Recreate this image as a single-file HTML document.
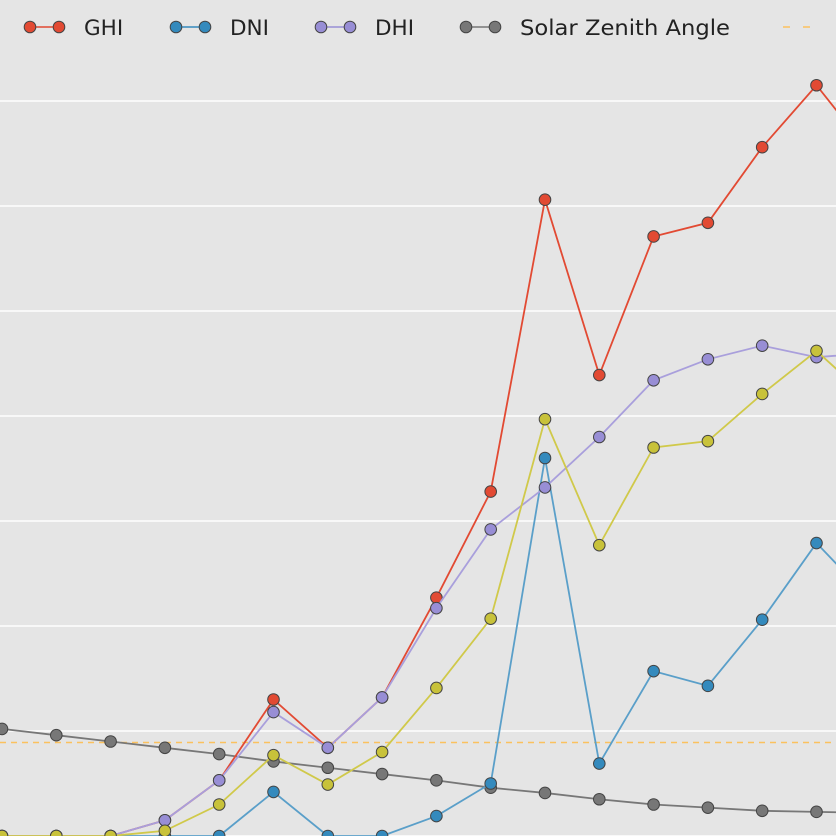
<!DOCTYPE html>
<html><head><meta charset="utf-8"><style>
body{margin:0;background:#e5e5e5;}
svg{display:block;font-family:"DejaVu Sans","Liberation Sans",sans-serif;}
</style></head><body>
<svg id="chart" width="836" height="836" viewBox="0 0 836 836">
<rect width="836" height="836" fill="#e5e5e5"/>
<g id="grid"></g>
<g id="series"></g>
<g id="legend"></g>
</svg>
<script>
const categories=[0,1,2,3,4,5,6,7,8,9,10,11,12,13,14,15,16];
const ghi=[0,0,0,15,53,130,84,132,227,328,606,439,571,584,656,715,650];
const dni=[0,0,0,0,0,42,0,0,19,50,360,69,157,143,206,279,225];
const dhi=[0,0,0,15,53,118,84,132,217,292,332,380,434,454,467,456,460];
const yellow=[0,0,0,5,30,77,49,80,141,207,397,277,370,376,421,462,415];
const zenith=[102,96,90,84,78,71,65,59,53,46,41,35,30,27,24,23,22];
const threshold=89;
const gridTicks=[0,100,200,300,400,500,600,700];
const NS='http://www.w3.org/2000/svg';
const xs=i=>2+i*54.3;
const ys=v=>836-v*1.05;
function mk(t,a,p){const e=document.createElementNS(NS,t);for(const k in a)e.setAttribute(k,a[k]);p.appendChild(e);return e;}
const grid=document.getElementById('grid');
gridTicks.forEach(v=>{const l=mk('line',{x1:0,x2:836,y1:ys(v),y2:ys(v),stroke:'#fff','stroke-width':1.6},grid);

});
const sg=document.getElementById('series');
const dl=mk('line',{x1:0,x2:836,y1:ys(threshold),y2:ys(threshold),stroke:'#FBC15E','stroke-width':1.5,'stroke-dasharray':'6,5'},sg);


const defs=[['zenith',zenith,'#777777','#777777'],['dni',dni,'#5a9fc9','#348ABD'],['ghi',ghi,'#E24A33','#E24A33'],['dhi',dhi,'#a99fdc','#988ED5'],['yellow',yellow,'#d0c94a','#c8c23a']];
defs.forEach(([n,d,lc,fc])=>{
 const g=mk('g',{},sg);
 
 
 const pts=d.map((v,i)=>xs(categories[i])+','+ys(v)).join(' ');
 mk('polyline',{points:pts,fill:'none',stroke:lc,'stroke-width':1.8},g);
 d.forEach((v,i)=>{const c=mk('circle',{cx:xs(categories[i]),cy:ys(v),r:5.8,fill:fc,stroke:'#444','stroke-width':1},g);
 
 });
});
const lg=document.getElementById('legend');
const items=[['GHI','#E24A33',22],['DNI','#348ABD',168],['DHI','#988ED5',313],['Solar Zenith Angle','#777777',458]];
items.forEach(([t,c,x])=>{
 const g=mk('g',{},lg);
 
 
 mk('line',{x1:x+8,x2:x+37,y1:27,y2:27,stroke:c,'stroke-width':1.6},g);
 mk('circle',{cx:x+8,cy:27,r:5.8,fill:c,stroke:'#444','stroke-width':1},g);
 mk('circle',{cx:x+37,cy:27,r:5.8,fill:c,stroke:'#444','stroke-width':1},g);
 const tx=mk('text',{x:x+62,y:35,'font-size':21.5,fill:'#222'},g);tx.textContent=t;
 if(t==='Solar Zenith Angle'){tx.setAttribute('textLength',210);tx.setAttribute('lengthAdjust','spacingAndGlyphs');}
});
const ld=mk('line',{x1:783,x2:816,y1:27,y2:27,stroke:'#FBC15E','stroke-width':1.5,'stroke-dasharray':'7,13'},lg);


</script>
</body></html>
